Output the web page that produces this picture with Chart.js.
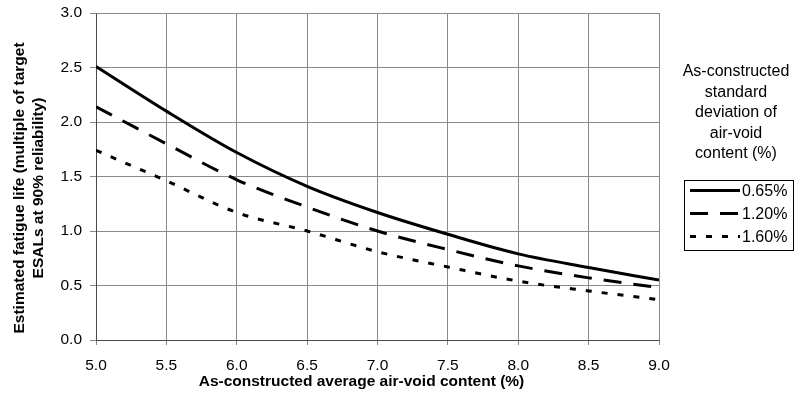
<!DOCTYPE html>
<html>
<head>
<meta charset="utf-8">
<script src="https://cdn.jsdelivr.net/npm/chart.js@4"></script>
<style>
  html, body { margin: 0; padding: 0; background: #ffffff; }
  #wrap { width: 795px; height: 409px; }
</style>
</head>
<body>
<div id="wrap"><canvas id="c" width="795" height="409"></canvas></div>
<script>
// Average air-void content (%) along the x axis
const airVoid = [5.0, 5.5, 6.0, 6.5, 7.0, 7.5, 8.0, 8.5, 9.0];

// Estimated fatigue life for each standard deviation of air-void content
const life065 = [2.51, 2.10, 1.72, 1.41, 1.17, 0.97, 0.79, 0.665, 0.55];
const life120 = [2.14, 1.80, 1.47, 1.22, 1.00, 0.83, 0.68, 0.57, 0.48];
const life160 = [1.74, 1.46, 1.17, 1.00, 0.81, 0.67, 0.54, 0.45, 0.37];

const seriesLabels = ['0.65%', '1.20%', '1.60%'];

const xTitle = 'As-constructed average air-void content (%)';
const yTitle = ['Estimated fatigue life (multiple of target', 'ESALs at 90% reliability)'];
const legendTitle = ['As-constructed', 'standard', 'deviation of', 'air-void', 'content (%)'];

const FONT = '"Liberation Sans", Arial, sans-serif';

function toPoints(values) {
  return airVoid.map((x, i) => ({ x: x, y: values[i] }));
}

const datasets = [
  { label: seriesLabels[0], data: toPoints(life065), borderDash: [] },
  { label: seriesLabels[1], data: toPoints(life120), borderDash: [18, 12] },
  { label: seriesLabels[2], data: toPoints(life160), borderDash: [6, 10] }
].map(d => Object.assign(d, {
  borderColor: '#000000',
  borderWidth: 3,
  pointRadius: 0,
  fill: false,
  cubicInterpolationMode: 'monotone',
  borderCapStyle: 'butt'
}));

// Axis titles, the legend title and the framed legend are drawn here
const annotations = {
  id: 'annotations',
  afterDraw(chart) {
    const ctx = chart.ctx;
    const area = chart.chartArea;
    ctx.save();

    // plot frame on the top and right
    ctx.strokeStyle = '#8a8a8a';
    ctx.lineWidth = 1;
    ctx.beginPath();
    ctx.moveTo(Math.round(area.left) + 0.5, Math.round(area.top) + 0.5);
    ctx.lineTo(Math.round(area.right) + 0.5, Math.round(area.top) + 0.5);
    ctx.lineTo(Math.round(area.right) + 0.5, Math.round(area.bottom) + 0.5);
    ctx.stroke();

    ctx.fillStyle = '#000000';

    // x axis title
    ctx.font = 'bold 15.5px ' + FONT;
    ctx.textAlign = 'center';
    ctx.textBaseline = 'middle';
    ctx.fillText(xTitle, 361.5, 382);

    // y axis title (two rotated lines)
    ctx.save();
    ctx.translate(0, 188);
    ctx.rotate(-Math.PI / 2);
    ctx.fillText(yTitle[0], 0, 20);
    ctx.fillText(yTitle[1], 0, 38.5);
    ctx.restore();

    // legend title
    ctx.font = '16px ' + FONT;
    legendTitle.forEach((line, i) => {
      ctx.fillText(line, 736, 72 + i * 20.4);
    });

    // legend frame
    ctx.strokeStyle = '#000000';
    ctx.lineWidth = 1;
    ctx.strokeRect(684.5, 180.5, 109, 70);

    // legend entries
    ctx.textAlign = 'left';
    chart.data.datasets.forEach((ds, i) => {
      const y = 190.5 + i * 23;
      ctx.save();
      ctx.strokeStyle = ds.borderColor;
      ctx.lineWidth = ds.borderWidth;
      ctx.setLineDash(ds.borderDash);
      ctx.beginPath();
      ctx.moveTo(690, y);
      ctx.lineTo(740, y);
      ctx.stroke();
      ctx.restore();
      ctx.fillText(ds.label, 742, y + 1);
    });

    ctx.restore();
  }
};

new Chart(document.getElementById('c'), {
  type: 'line',
  data: { datasets: datasets },
  options: {
    responsive: false,
    animation: false,
    devicePixelRatio: 1,
    layout: { padding: { left: 0, right: 136, top: 13, bottom: 0 } },
    plugins: {
      legend: { display: false },
      tooltip: { enabled: false }
    },
    scales: {
      x: {
        type: 'linear',
        min: 5,
        max: 9,
        ticks: {
          stepSize: 0.5,
          color: '#000000',
          font: { family: FONT, size: 15.5 },
          padding: 11,
          maxRotation: 0,
          callback: v => Number(v).toFixed(1)
        },
        grid: { color: '#8a8a8a', lineWidth: 1, tickLength: 5, drawTicks: true },
        border: { color: '#4a4a4a', width: 1 },
        afterFit(scale) {
          scale.height = 69;
          scale.paddingLeft = 0;
          scale.paddingRight = 0;
        }
      },
      y: {
        type: 'linear',
        min: 0,
        max: 3,
        ticks: {
          stepSize: 0.5,
          color: '#000000',
          font: { family: FONT, size: 15.5 },
          padding: 8,
          callback: v => Number(v).toFixed(1)
        },
        grid: { color: '#8a8a8a', lineWidth: 1, tickLength: 6, drawTicks: true },
        border: { color: '#4a4a4a', width: 1 },
        afterFit(scale) {
          scale.width = 96;
          scale.paddingTop = 0;
          scale.paddingBottom = 0;
        }
      }
    }
  },
  plugins: [annotations]
});
</script>
</body>
</html>
